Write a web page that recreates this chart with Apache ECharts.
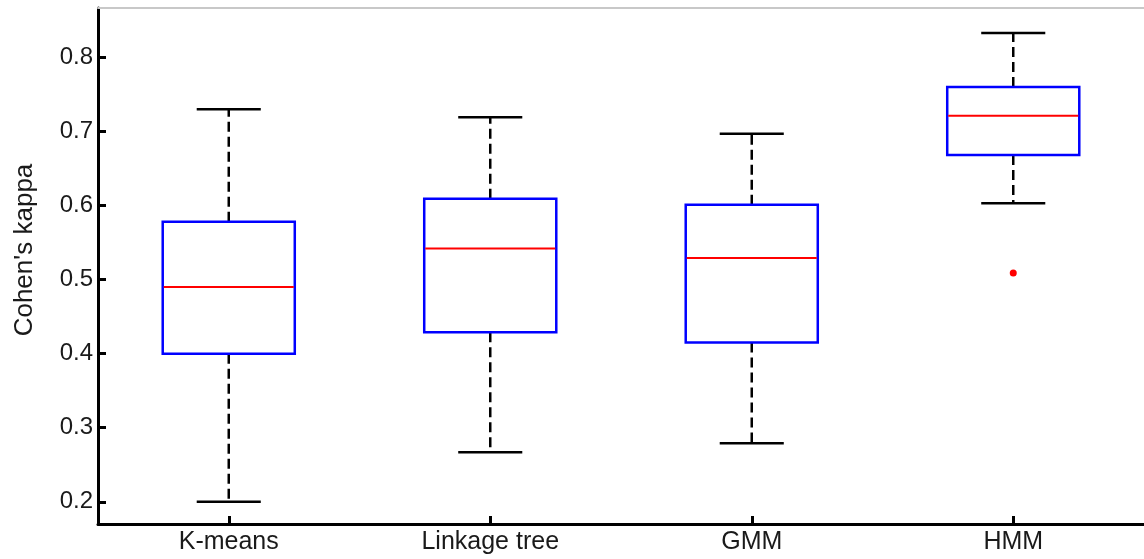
<!DOCTYPE html>
<html>
<head>
<meta charset="utf-8">
<script src="https://cdn.jsdelivr.net/npm/echarts@6/dist/echarts.min.js"></script>
<style>
html,body{margin:0;padding:0;background:#fff;}
#chart{width:1144px;height:559px;}
</style>
</head>
<body>
<div id="chart"></div>
<script>
// Data
const categories = ['K-means', 'Linkage tree', 'GMM', 'HMM'];
const whiskerLow = [0.200, 0.267, 0.279, 0.603];
const q1Values   = [0.400, 0.429, 0.415, 0.668];
const medians    = [0.490, 0.542, 0.529, 0.721];
const q3Values   = [0.578, 0.609, 0.601, 0.760];
const whiskerHigh= [0.730, 0.719, 0.697, 0.833];
const outliers   = [[3, 0.509]];
const yTicks = [0.2, 0.3, 0.4, 0.5, 0.6, 0.7, 0.8];
const yMin = 0.17, yMax = 0.8666;

const boxData = categories.map((c, i) => [i, whiskerLow[i], q1Values[i], medians[i], q3Values[i], whiskerHigh[i]]);

const FONT = '"Liberation Sans", Arial, sans-serif';
const TXT = '#1a1a1a';

function renderBox(params, api) {
  const i = api.value(0);
  const band = api.size([1, 0])[0];
  const bw = band * 0.505;
  const cw = band * 0.245;
  const pLow = api.coord([i, api.value(1)]);
  const pQ1 = api.coord([i, api.value(2)]);
  const pMed = api.coord([i, api.value(3)]);
  const pQ3 = api.coord([i, api.value(4)]);
  const pHigh = api.coord([i, api.value(5)]);
  const cx = pMed[0];
  const dash = {stroke: '#000', lineWidth: 2.5, lineDash: [10, 5]};
  const solid = {stroke: '#000', lineWidth: 2.5};
  return {
    type: 'group',
    children: [
      {type: 'line', shape: {x1: cx, y1: pQ3[1], x2: cx, y2: pHigh[1]}, style: dash},
      {type: 'line', shape: {x1: cx, y1: pQ1[1], x2: cx, y2: pLow[1]}, style: dash},
      {type: 'line', shape: {x1: cx - cw / 2, y1: pHigh[1], x2: cx + cw / 2, y2: pHigh[1]}, style: solid},
      {type: 'line', shape: {x1: cx - cw / 2, y1: pLow[1], x2: cx + cw / 2, y2: pLow[1]}, style: solid},
      {type: 'rect', shape: {x: cx - bw / 2, y: pQ3[1], width: bw, height: pQ1[1] - pQ3[1]},
        style: {fill: '#fff', stroke: '#0000ff', lineWidth: 2.5}},
      {type: 'line', shape: {x1: cx - bw / 2 + 1, y1: pMed[1], x2: cx + bw / 2 - 1, y2: pMed[1]},
        style: {stroke: '#ff0000', lineWidth: 2}}
    ]
  };
}

const chart = echarts.init(document.getElementById('chart'), null, {renderer: 'canvas'});
chart.setOption({
  animation: false,
  backgroundColor: '#fff',
  grid: {left: 98, right: 0, top: 8, bottom: 35, containLabel: false},
  xAxis: [{
    type: 'category',
    data: categories,
    position: 'bottom',
    boundaryGap: true,
    axisLine: {show: true, lineStyle: {color: '#000', width: 3}},
    axisTick: {show: true, interval: 0, inside: true, alignWithLabel: true, length: 8, lineStyle: {color: '#000', width: 3}},
    axisLabel: {color: TXT, fontFamily: FONT, fontSize: 25, margin: 6},
    splitLine: {show: false}
  }, {
    type: 'category',
    data: categories,
    position: 'top',
    axisLine: {show: true, lineStyle: {color: '#c8c8c8', width: 2}},
    axisTick: {show: false},
    axisLabel: {show: false}
  }],
  yAxis: {
    type: 'value',
    min: yMin,
    max: yMax,
    axisLine: {show: true, lineStyle: {color: '#000', width: 3}},
    axisTick: {show: true, inside: true, length: 8, customValues: yTicks, lineStyle: {color: '#000', width: 3}},
    axisLabel: {color: TXT, fontFamily: FONT, fontSize: 24, margin: 5, customValues: yTicks,
      formatter: v => v.toFixed(1)},
    splitLine: {show: false}
  },
  graphic: [{
    type: 'text',
    x: 25, y: 250, rotation: Math.PI / 2,
    style: {text: "Cohen's kappa", font: '26px ' + FONT, fill: TXT, align: 'center', verticalAlign: 'middle'}
  }],
  series: [{
    type: 'custom',
    renderItem: renderBox,
    data: boxData,
    encode: {x: 0, y: [1, 2, 3, 4, 5]},
    z: 2
  }, {
    type: 'scatter',
    data: outliers,
    symbol: 'circle',
    symbolSize: 7,
    itemStyle: {color: '#ff0000', opacity: 1},
    z: 3
  }]
});
</script>
</body>
</html>
